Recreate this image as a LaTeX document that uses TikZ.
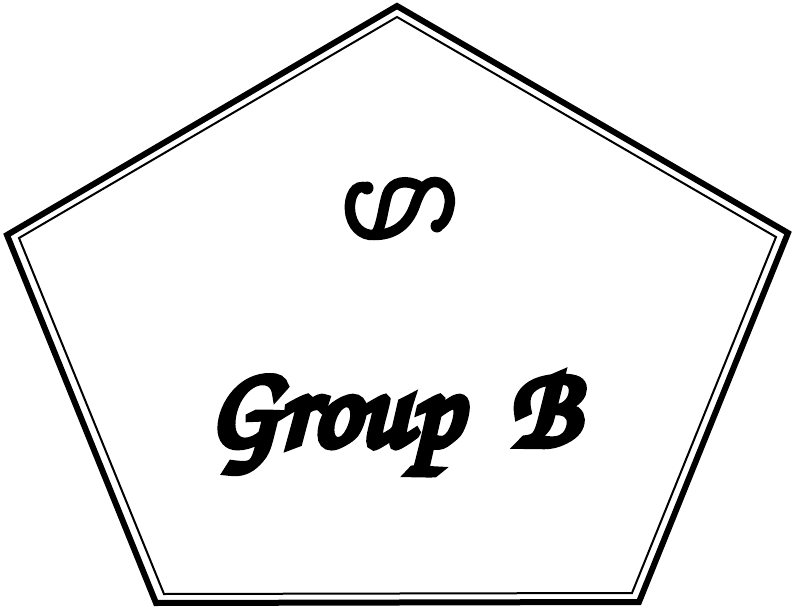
\documentclass[tikz,border=0pt]{standalone}
\usepackage{fontspec}
\newfontfamily\brushfont[FakeBold=7]{texgyrechorus-mediumitalic.otf}
\begin{document}
\begin{tikzpicture}[x=1pt,y=-1pt]
  \useasboundingbox (0,0) rectangle (796,610);
  % outer and inner border
  \draw[line width=6pt,line join=miter] (397,6) -- (788,233) -- (639,602) -- (156,603) -- (7,235) -- cycle;
  \draw[line width=2pt] (397,17) -- (776,237) -- (632,593) -- (164,594) -- (19,238) -- cycle;
  % ornament
  \draw[line width=10.5pt,line cap=round] (367,188) .. controls (355,183) and (349,197) .. (350,210)
    .. controls (351,226) and (362,236) .. (374,235)
    .. controls (394,235) and (408,225) .. (415,205) .. controls (420,190) and (426,182) .. (435,182)
    .. controls (447,182) and (452,196) .. (449,208) .. controls (447,218) and (442,225) .. (437,226);
  \draw[line width=10.5pt,line cap=round] (419,186) .. controls (408,180) and (392,180) .. (387,195)
    .. controls (383,208) and (382,225) .. (376,234);
  \fill (367,188) circle (6.5pt) (437,226) circle (6.5pt);
  \node[anchor=base,inner sep=0pt] (title) at (393,445)
    {\brushfont\fontsize{115}{120}\selectfont Group \hspace{0.2em}B};
\end{tikzpicture}
\end{document}
